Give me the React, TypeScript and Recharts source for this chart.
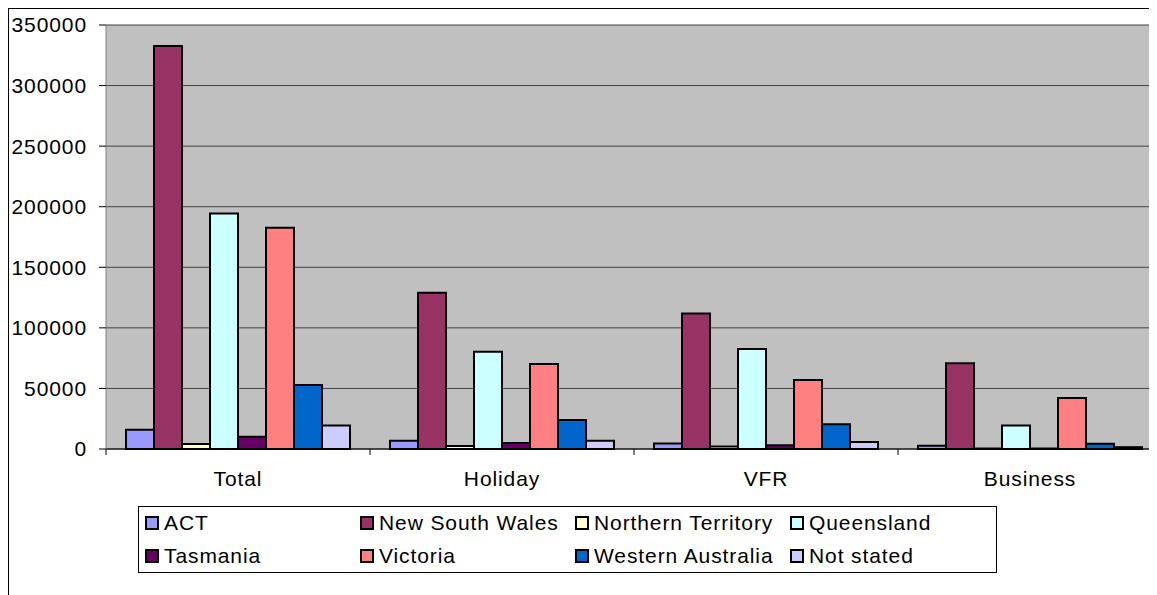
import React from 'react';
import { Bar, BarChart, CartesianGrid, XAxis, YAxis } from 'recharts';

const categories = ['Total', 'Holiday', 'VFR', 'Business'];

const act = [15800, 6900, 4600, 2700];
const newSouthWales = [332700, 128900, 111800, 70800];
const northernTerritory = [4100, 2500, 2100, 400];
const queensland = [194500, 80200, 82500, 19300];
const tasmania = [10200, 5000, 3000, 400];
const victoria = [182600, 70200, 57000, 42000];
const westernAustralia = [52800, 24000, 20400, 4400];
const notStated = [19300, 6900, 5800, 1500];

const yTicks = [0, 50000, 100000, 150000, 200000, 250000, 300000, 350000];

const series = [
  { key: 'act', name: 'ACT', values: act, color: '#9999FF' },
  { key: 'nsw', name: 'New South Wales', values: newSouthWales, color: '#993366' },
  { key: 'nt', name: 'Northern Territory', values: northernTerritory, color: '#FFFFCC' },
  { key: 'qld', name: 'Queensland', values: queensland, color: '#CCFFFF' },
  { key: 'tas', name: 'Tasmania', values: tasmania, color: '#660066' },
  { key: 'vic', name: 'Victoria', values: victoria, color: '#FF8080' },
  { key: 'wa', name: 'Western Australia', values: westernAustralia, color: '#0066CC' },
  { key: 'ns', name: 'Not stated', values: notStated, color: '#CCCCFF' },
];

const data = categories.map((category, i) => {
  const row: Record<string, string | number> = { category };
  series.forEach((s) => {
    row[s.key] = s.values[i];
  });
  return row;
});

const FONT = '"Liberation Sans", Arial, sans-serif';
const CHART_W = 1160;
const CHART_H = 590;
const MARGIN = { top: 16, right: 7, left: 7, bottom: 110 };
const Y_AXIS_W = 90;
const PLOT_W = CHART_W - MARGIN.left - MARGIN.right - Y_AXIS_W;
const BAND = PLOT_W / categories.length;

// category ticks sit on the band edges, labels in the middle
const CategoryTick = (props: any) => {
  const { x, y, payload } = props;
  return (
    <g>
      <line x1={x - BAND / 2} y1={y} x2={x - BAND / 2} y2={y + 6} stroke="#000" />
      <text
        x={x}
        y={y + 37}
        textAnchor="middle"
        fontFamily={FONT}
        fontSize={21}
        letterSpacing={0.9}
        fill="#000"
      >
        {payload.value}
      </text>
    </g>
  );
};

const Legend = () => (
  <div
    style={{
      position: 'absolute',
      left: 129,
      top: 497,
      width: 859,
      height: 67,
      border: '1px solid #000',
      boxSizing: 'border-box',
      background: '#fff',
      fontFamily: FONT,
      fontSize: 21,
      letterSpacing: 0.9,
      display: 'grid',
      gridTemplateColumns: 'repeat(4, 215px)',
      gridTemplateRows: '31px 35px',
      paddingLeft: 6,
    }}
  >
    {series.map((s) => (
      <div key={s.key} style={{ display: 'flex', alignItems: 'center', whiteSpace: 'nowrap' }}>
        <span
          style={{
            display: 'inline-block',
            width: 10,
            height: 10,
            background: s.color,
            border: '2px solid #000',
            marginRight: 5,
          }}
        />
        <span>{s.name}</span>
      </div>
    ))}
  </div>
);

export default function App() {
  return (
    <div style={{ width: 1149, height: 587, overflow: 'hidden' }}>
      <div style={{ position: 'relative', width: 1170, height: 600, border: '1px solid #000', background: '#fff' }}>
        <BarChart
          width={CHART_W}
          height={CHART_H}
          data={data}
          margin={MARGIN}
          barGap={0}
          barCategoryGap={20}
        >
          <CartesianGrid vertical={false} fill="#C0C0C0" stroke="#404040" />
          <XAxis
            dataKey="category"
            height={40}
            tickSize={0}
            tickMargin={0}
            tickLine={false}
            axisLine={{ stroke: '#000' }}
            tick={<CategoryTick />}
            interval={0}
          />
          <YAxis
            width={Y_AXIS_W}
            domain={[0, 350000]}
            ticks={yTicks}
            tickSize={7}
            tickMargin={12}
            tickLine={{ stroke: '#000' }}
            axisLine={{ stroke: '#808080' }}
            tick={{ fontFamily: FONT, fontSize: 21, fill: '#000', letterSpacing: 0.9 }}
            interval={0}
          />
          {series.map((s) => (
            <Bar
              key={s.key}
              dataKey={s.key}
              name={s.name}
              fill={s.color}
              stroke="#000"
              strokeWidth={2}
              isAnimationActive={false}
            />
          ))}
        </BarChart>
        <Legend />
      </div>
    </div>
  );
}
